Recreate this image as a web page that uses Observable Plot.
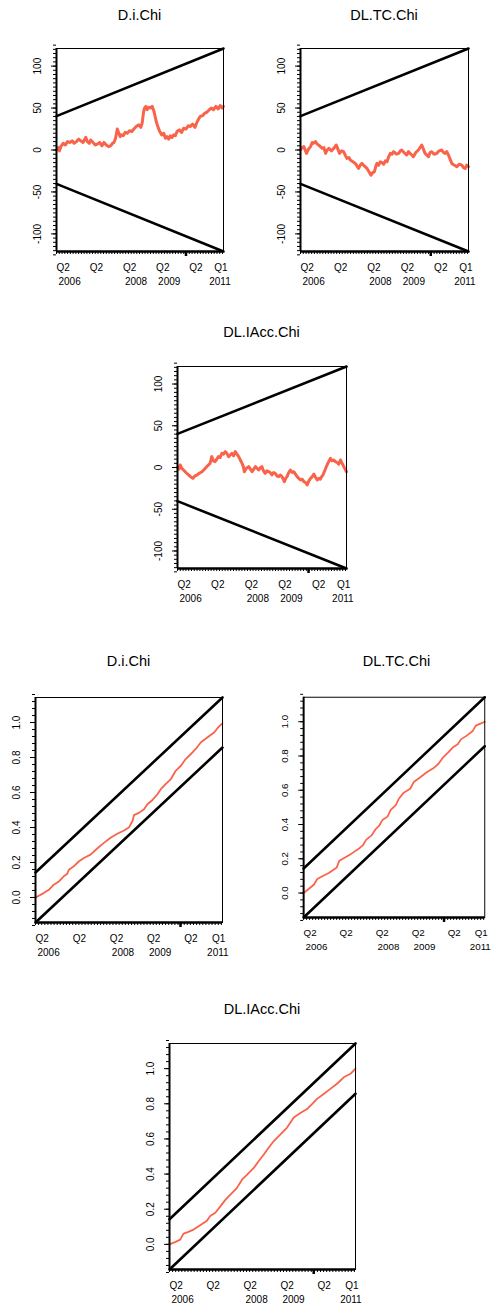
<!DOCTYPE html>
<html><head><meta charset="utf-8">
<script src="https://cdn.jsdelivr.net/npm/d3@7"></script>
<script src="https://cdn.jsdelivr.net/npm/@observablehq/plot@0.6"></script>
<style>
html,body{margin:0;padding:0;background:#fff;}
#root{position:relative;width:496px;height:1310px;overflow:hidden;font-family:"Liberation Sans",Arial,sans-serif;}
.title{position:absolute;font-size:14.5px;line-height:1;text-align:center;white-space:nowrap;color:#000;}
.panel{position:absolute;}
</style></head>
<body><div id="root"></div>
<script>
// ---- data (decimal year, value) ----
const cusumDi = [[2006.25,0],[2006.30,3],[2006.34,-1],[2006.38,4],[2006.45,8],[2006.52,6],[2006.58,10],[2006.66,9],[2006.72,11],[2006.78,8],[2006.85,10],[2006.92,13],[2006.98,11],[2007.05,9],[2007.13,15],[2007.18,10],[2007.24,8],[2007.28,12],[2007.35,9],[2007.42,6],[2007.48,7],[2007.55,9],[2007.62,5],[2007.68,9],[2007.75,6],[2007.82,4],[2007.88,5],[2007.94,8],[2007.98,9],[2008.03,14],[2008.08,25],[2008.13,20],[2008.17,16],[2008.20,18],[2008.26,17],[2008.32,21],[2008.38,20],[2008.45,23],[2008.52,22],[2008.58,25],[2008.65,28],[2008.73,30],[2008.79,27],[2008.83,32],[2008.87,45],[2008.90,50],[2008.94,52],[2008.98,48],[2009.03,51],[2009.08,50],[2009.13,52],[2009.18,47],[2009.22,40],[2009.26,33],[2009.31,27],[2009.36,22],[2009.42,18],[2009.48,20],[2009.53,14],[2009.58,16],[2009.63,13],[2009.68,17],[2009.73,15],[2009.78,18],[2009.83,17],[2009.88,22],[2009.95,24],[2010.02,21],[2010.08,26],[2010.15,25],[2010.22,29],[2010.28,28],[2010.35,31],[2010.42,27],[2010.48,33],[2010.53,37],[2010.58,40],[2010.65,41],[2010.72,44],[2010.78,45],[2010.85,48],[2010.92,50],[2010.98,48],[2011.05,52],[2011.12,49],[2011.18,53],[2011.24,50],[2011.28,52]];
const cusumTC = [[2006.25,0],[2006.30,3],[2006.35,4],[2006.43,-4],[2006.49,1],[2006.55,4],[2006.60,9],[2006.65,8],[2006.70,10],[2006.75,7],[2006.82,5],[2006.90,2],[2006.95,3],[2007.00,-4],[2007.05,0],[2007.10,2],[2007.18,-1],[2007.25,2],[2007.32,6],[2007.37,1],[2007.42,-4],[2007.48,-1],[2007.54,-2],[2007.60,-7],[2007.64,-10],[2007.70,-9],[2007.74,-12],[2007.82,-14],[2007.89,-16],[2007.94,-19],[2007.99,-22],[2008.04,-18],[2008.09,-16],[2008.16,-19],[2008.24,-22],[2008.30,-26],[2008.36,-30],[2008.41,-27],[2008.46,-26],[2008.50,-20],[2008.54,-16],[2008.59,-18],[2008.64,-14],[2008.69,-15],[2008.74,-17],[2008.79,-13],[2008.84,-14],[2008.89,-8],[2008.94,-4],[2008.99,-5],[2009.04,-2],[2009.12,-5],[2009.19,-4],[2009.24,-1],[2009.28,0],[2009.35,-3],[2009.43,-6],[2009.48,-2],[2009.53,-4],[2009.58,-6],[2009.63,-8],[2009.70,-3],[2009.78,0],[2009.83,3],[2009.88,6],[2009.93,1],[2009.98,-4],[2010.03,-6],[2010.08,-8],[2010.13,-3],[2010.18,-2],[2010.25,-5],[2010.33,-4],[2010.40,-1],[2010.48,0],[2010.53,-3],[2010.58,-4],[2010.63,-2],[2010.68,-6],[2010.73,-11],[2010.78,-16],[2010.85,-18],[2010.93,-20],[2011.00,-17],[2011.08,-18],[2011.13,-21],[2011.18,-22],[2011.23,-18],[2011.28,-20]];
const cusumIAcc = [[2006.25,0],[2006.29,-2],[2006.33,3],[2006.38,-1],[2006.43,-3],[2006.50,-6],[2006.58,-9],[2006.64,-11],[2006.71,-13],[2006.77,-10],[2006.83,-9],[2006.90,-7],[2006.98,-5],[2007.05,-2],[2007.12,1],[2007.17,3],[2007.22,5],[2007.27,13],[2007.32,8],[2007.37,7],[2007.42,10],[2007.47,13],[2007.52,12],[2007.57,17],[2007.62,16],[2007.67,19],[2007.72,17],[2007.77,13],[2007.82,15],[2007.87,17],[2007.92,14],[2007.97,19],[2008.02,16],[2008.07,13],[2008.12,9],[2008.17,5],[2008.21,1],[2008.24,-5],[2008.30,-1],[2008.37,1],[2008.42,-2],[2008.47,-5],[2008.52,-2],[2008.57,1],[2008.62,-1],[2008.67,-3],[2008.72,0],[2008.76,1],[2008.81,-4],[2008.86,-7],[2008.91,-4],[2008.96,-5],[2009.01,-6],[2009.06,-9],[2009.11,-6],[2009.16,-7],[2009.21,-10],[2009.26,-11],[2009.31,-9],[2009.36,-11],[2009.40,-14],[2009.43,-17],[2009.47,-13],[2009.51,-11],[2009.56,-6],[2009.61,-3],[2009.66,-6],[2009.71,-5],[2009.76,-8],[2009.81,-11],[2009.86,-13],[2009.91,-15],[2009.96,-14],[2010.01,-17],[2010.06,-18],[2010.11,-21],[2010.16,-16],[2010.21,-13],[2010.26,-11],[2010.31,-8],[2010.36,-12],[2010.41,-15],[2010.46,-13],[2010.50,-14],[2010.54,-11],[2010.58,-9],[2010.64,-3],[2010.70,3],[2010.75,7],[2010.80,11],[2010.85,8],[2010.90,9],[2010.95,7],[2011.00,6],[2011.05,4],[2011.10,9],[2011.15,5],[2011.20,1],[2011.24,-2],[2011.28,-5]];
const cusumsqDi = [[2006.25,0],[2006.47,0.025],[2006.61,0.044],[2006.74,0.073],[2006.88,0.092],[2007.01,0.121],[2007.10,0.134],[2007.15,0.159],[2007.28,0.178],[2007.42,0.207],[2007.55,0.226],[2007.73,0.245],[2007.91,0.280],[2008.09,0.312],[2008.27,0.341],[2008.45,0.364],[2008.63,0.383],[2008.77,0.402],[2008.86,0.437],[2008.90,0.471],[2009.04,0.485],[2009.17,0.504],[2009.26,0.533],[2009.39,0.556],[2009.53,0.590],[2009.62,0.619],[2009.75,0.648],[2009.89,0.676],[2010.02,0.724],[2010.16,0.753],[2010.29,0.791],[2010.43,0.820],[2010.56,0.849],[2010.70,0.887],[2010.88,0.916],[2011.06,0.944],[2011.15,0.969],[2011.28,0.996]];
const cusumsqTC = [[2006.25,0],[2006.40,0.025],[2006.54,0.05],[2006.63,0.082],[2006.77,0.098],[2006.95,0.117],[2007.08,0.136],[2007.17,0.149],[2007.24,0.188],[2007.40,0.207],[2007.58,0.230],[2007.76,0.255],[2007.90,0.280],[2007.99,0.312],[2008.13,0.335],[2008.24,0.370],[2008.35,0.393],[2008.44,0.427],[2008.58,0.446],[2008.67,0.485],[2008.81,0.513],[2008.90,0.552],[2009.03,0.586],[2009.21,0.609],[2009.31,0.648],[2009.49,0.676],[2009.67,0.705],[2009.85,0.728],[2009.99,0.753],[2010.12,0.791],[2010.26,0.820],[2010.39,0.849],[2010.53,0.868],[2010.62,0.897],[2010.76,0.916],[2010.94,0.944],[2011.03,0.977],[2011.16,0.989],[2011.28,1.0]];
const cusumsqIAcc = [[2006.25,0],[2006.40,0.013],[2006.54,0.027],[2006.63,0.061],[2006.76,0.071],[2006.90,0.084],[2007.08,0.109],[2007.26,0.134],[2007.35,0.161],[2007.49,0.180],[2007.62,0.215],[2007.76,0.253],[2007.89,0.282],[2008.07,0.320],[2008.21,0.368],[2008.35,0.397],[2008.53,0.435],[2008.66,0.473],[2008.80,0.511],[2008.93,0.550],[2009.07,0.588],[2009.25,0.626],[2009.43,0.665],[2009.61,0.722],[2009.79,0.747],[2009.97,0.770],[2010.11,0.799],[2010.24,0.828],[2010.42,0.856],[2010.60,0.885],[2010.78,0.914],[2010.97,0.952],[2011.15,0.971],[2011.28,1.0]];

// boundaries: [start, end]
const timeSpan = [2006.25, 2011.28];
const cusumUpper = [40.33, 121];
const cusumLower = [-40.33, -121];
const sqUpper = [0.143, 1.143];
const sqLower = [-0.143, 0.857];

// tick labels
const quarterTicks = [2006.25, 2007.25, 2008.25, 2009.25, 2010.25, 2011.0];
const quarterLabels = ["Q2","Q2","Q2","Q2","Q2","Q1"];
const yearTicks = [2006.25, 2008.25, 2009.25, 2011.0];
const yearLabels = ["2006","2008","2009","2011"];
const markTick = [2010.15];
const cusumMajor = [-100,-50,0,50,100];
const cusumMajorLabels = ["-100","-50","0","50","100"];
const sqMajor = [0,0.2,0.4,0.6,0.8,1.0];
const sqMajorLabels = ["0.0","0.2","0.4","0.6","0.8","1.0"];

const RED = "#f9634a";
const root = document.getElementById("root");
const qMap = new Map(quarterTicks.map((t,i)=>[t,quarterLabels[i]]));
const yMap = new Map(yearTicks.map((t,i)=>[t,yearLabels[i]]));
const monthTicks = d3.range(0, 61).map(k => 2006.25 + k/12).filter(t => t <= timeSpan[1]);
const lastYear = yearTicks[yearTicks.length - 1];

function panel(p){
  const ml=42, mr=12, mt=12, mb=46;
  const cusum = p.kind === "cusum";
  const yDom = cusum ? [cusumLower[1], cusumUpper[1]] : [sqLower[0], sqUpper[1]];
  const up = cusum ? cusumUpper : sqUpper;
  const lo = cusum ? cusumLower : sqLower;
  const upper = [[timeSpan[0], up[0]],[timeSpan[1], up[1]]];
  const lower = [[timeSpan[0], lo[0]],[timeSpan[1], lo[1]]];
  const minorY = cusum ? d3.range(-25, 26).map(k=>k*5) : d3.range(-4, 30).map(k=>+(k*0.04).toFixed(2));
  const major = cusum ? cusumMajor : sqMajor;
  const majorLab = cusum ? cusumMajorLabels : sqMajorLabels;
  const labMap = new Map(major.map((v,i)=>[v,majorLab[i]]));
  const chart = Plot.plot({
    width: p.w + ml + mr, height: p.h + mt + mb,
    marginLeft: ml, marginRight: mr, marginTop: mt, marginBottom: mb,
    style: {fontFamily: '"Liberation Sans", Arial, sans-serif', fontSize: "10px", background: "transparent", overflow: "visible", color: "#000"},
    x: {type: "linear", domain: timeSpan, axis: null},
    y: {type: "linear", domain: yDom, axis: null},
    marks: [
      Plot.line(p.series, {x: d=>d[0], y: d=>d[1], stroke: RED, strokeWidth: cusum ? 3 : 1.8, strokeLinejoin: "round"}),
      Plot.line(upper, {x: d=>d[0], y: d=>d[1], stroke: "#000", strokeWidth: 2.6}),
      Plot.line(lower, {x: d=>d[0], y: d=>d[1], stroke: "#000", strokeWidth: 2.6}),
      Plot.frame({stroke: "#000", strokeWidth: 1}),
      Plot.ruleX([timeSpan[0]], {stroke: "#000", strokeWidth: 2}),
      Plot.ruleY([yDom[0]], {stroke: "#000", strokeWidth: 2.5}),
      Plot.axisY(minorY, {anchor: "left", tickSize: 3, text: null, stroke: "#000"}),
      Plot.axisY(major, {anchor: "left", tickSize: 5, stroke: "#000", tickRotate: -90, textAnchor: "middle", lineAnchor: "middle", tickPadding: 14, tickFormat: d => labMap.get(d), fill: "#000"}),
      Plot.axisX(monthTicks, {anchor: "bottom", tickSize: 3, text: null, stroke: "#000"}),
      Plot.axisX(markTick, {anchor: "bottom", tickSize: 5, text: null, stroke: "#000", strokeWidth: 2.5}),
      Plot.axisX(quarterTicks, {anchor: "bottom", tickSize: 0, tickPadding: 12, textAnchor: "start", tickFormat: d => qMap.get(d), fill: "#000"}),
      Plot.axisX(yearTicks.filter(t => t !== lastYear), {anchor: "bottom", tickSize: 0, tickPadding: 26, textAnchor: "start", dx: 2, tickFormat: d => yMap.get(d), fill: "#000"}),
      Plot.axisX([lastYear], {anchor: "bottom", tickSize: 0, tickPadding: 26, textAnchor: "start", dx: -5, tickFormat: d => yMap.get(d), fill: "#000"})
    ]
  });
  const div = document.createElement("div");
  div.className = "panel";
  div.style.left = (p.x - ml) + "px";
  div.style.top = (p.y - mt) + "px";
  div.appendChild(chart);
  root.appendChild(div);
  const t = document.createElement("div");
  t.className = "title";
  t.textContent = p.title;
  t.style.left = (p.x + p.w/2 - 100) + "px";
  t.style.width = "200px";
  t.style.top = (p.titleY - 7) + "px";
  root.appendChild(t);
}

panel({x:56, y:48, w:167, h:203, title:"D.i.Chi", titleY:15, kind:"cusum", series:cusumDi});
panel({x:300, y:48, w:168, h:203, title:"DL.TC.Chi", titleY:15, kind:"cusum", series:cusumTC});
panel({x:177, y:366, w:169, h:202, title:"DL.IAcc.Chi", titleY:332, kind:"cusum", series:cusumIAcc});
panel({x:35, y:697, w:187, h:225, title:"D.i.Chi", titleY:661, kind:"sq", series:cusumsqDi});
panel({x:304, y:697, w:185, h:225, title:"DL.TC.Chi", titleY:661, kind:"sq", series:cusumsqTC});
panel({x:169, y:1043, w:186, h:226, title:"DL.IAcc.Chi", titleY:1009, kind:"sq", series:cusumsqIAcc});
</script></body></html>
